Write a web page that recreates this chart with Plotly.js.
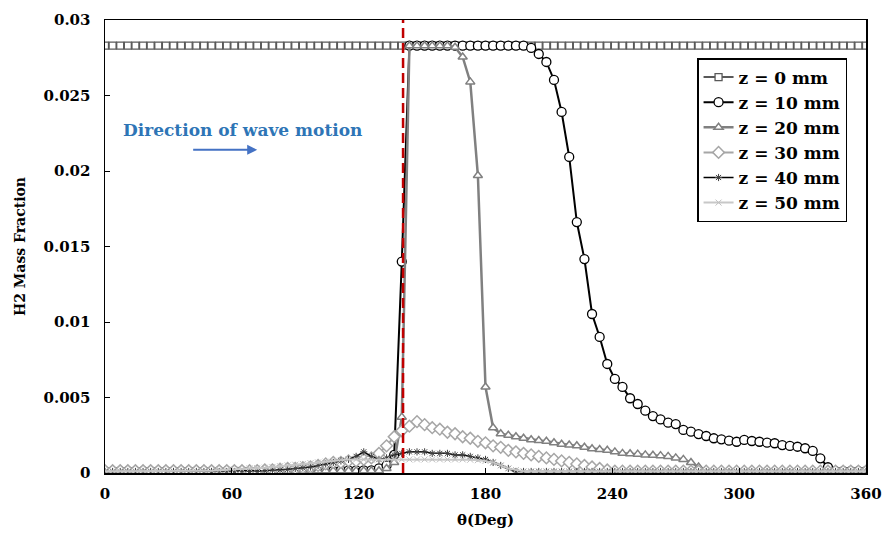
<!DOCTYPE html>
<html>
<head>
<meta charset="utf-8">
<script src="https://cdn.plot.ly/plotly-3.0.1.min.js"></script>
<style>html,body{margin:0;padding:0;background:#fff;}#chart{width:882px;height:533px;}</style>
</head>
<body>
<div id="chart"></div>
<script>
// Angle grid (deg)
const theta = [0,3.6,7.2,10.8,14.4,18,21.6,25.2,28.8,32.4,36,39.6,43.2,46.8,50.4,54,57.6,61.2,64.8,68.4,
72,75.6,79.2,82.8,86.4,90,93.6,97.2,100.8,104.4,108,111.6,115.2,118.8,122.4,126,129.6,133.2,136.8,140.4,
144,147.6,151.2,154.8,158.4,162,165.6,169.2,172.8,176.4,180,183.6,187.2,190.8,194.4,198,201.6,205.2,208.8,212.4,
216,219.6,223.2,226.8,230.4,234,237.6,241.2,244.8,248.4,252,255.6,259.2,262.8,266.4,270,273.6,277.2,280.8,284.4,
288,291.6,295.2,298.8,302.4,306,309.6,313.2,316.8,320.4,324,327.6,331.2,334.8,338.4,342,345.6,349.2,352.8,356.4,360];

const z0 = [0.0283,0.0283,0.0283,0.0283,0.0283,0.0283,0.0283,0.0283,0.0283,0.0283,
0.0283,0.0283,0.0283,0.0283,0.0283,0.0283,0.0283,0.0283,0.0283,0.0283,
0.0283,0.0283,0.0283,0.0283,0.0283,0.0283,0.0283,0.0283,0.0283,0.0283,
0.0283,0.0283,0.0283,0.0283,0.0283,0.0283,0.0283,0.0283,0.0283,0.0283,
0.0283,0.0283,0.0283,0.0283,0.0283,0.0283,0.0283,0.0283,0.0283,0.0283,
0.0283,0.0283,0.0283,0.0283,0.0283,0.0283,0.0283,0.0283,0.0283,0.0283,
0.0283,0.0283,0.0283,0.0283,0.0283,0.0283,0.0283,0.0283,0.0283,0.0283,
0.0283,0.0283,0.0283,0.0283,0.0283,0.0283,0.0283,0.0283,0.0283,0.0283,
0.0283,0.0283,0.0283,0.0283,0.0283,0.0283,0.0283,0.0283,0.0283,0.0283,
0.0283,0.0283,0.0283,0.0283,0.0283,0.0283,0.0283,0.0283,0.0283,0.0283,0.0283];

const z10 = [0.00012,0.00012,0.00012,0.00012,0.00012,0.00012,0.00012,0.00012,0.00012,0.00012,
0.00012,0.00012,0.00012,0.00012,0.00012,0.00012,0.00012,0.00012,0.00012,0.00012,
0.00012,0.00014,0.00014,0.00014,0.00014,0.00014,0.00014,0.00014,0.00014,0.00014,
0.00014,0.00018,0.00018,0.00018,0.00018,0.00018,0.0003,0.0005,0.0012,0.014,
0.0283,0.0283,0.0283,0.0283,0.0283,0.0283,0.0283,0.0283,0.0283,0.0283,
0.0283,0.0283,0.0283,0.0283,0.0283,0.0283,0.02815,0.02775,0.02722,0.02603,
0.02391,0.02093,0.01662,0.01417,0.01053,0.00901,0.00722,0.00623,0.0057,0.00495,
0.00457,0.00413,0.00377,0.00355,0.00333,0.00324,0.00285,0.00274,0.00258,0.00245,
0.0023,0.00223,0.00214,0.00207,0.00219,0.00212,0.00207,0.00201,0.00197,0.00185,
0.00179,0.00174,0.00164,0.00146,0.00097,0.00038,0.00012,0.00012,0.00012,0.00012,0.00012];

const z20 = [0.00015,0.00015,0.00015,0.00015,0.00015,0.00015,0.00015,0.00015,0.00015,0.00015,
0.00015,0.00015,0.00015,0.00015,0.00015,0.00015,0.00015,0.00015,0.00015,0.00015,
0.00015,0.00015,0.00015,0.00015,0.00015,0.00015,0.00015,0.00015,0.00015,0.00015,
0.00015,0.00015,0.00015,0.00015,0.00015,0.00015,0.00015,0.0003,0.0007,0.0037,
0.0283,0.0283,0.0283,0.0283,0.0283,0.0283,0.0282,0.02755,0.0259,0.0197,
0.0057,0.0030,0.0026,0.0025,0.0024,0.0023,0.0022,0.00215,0.0021,0.0020,
0.0019,0.00185,0.0018,0.0017,0.0016,0.00155,0.0015,0.0014,0.0013,0.00128,
0.00125,0.0012,0.00118,0.00115,0.0011,0.0010,0.0009,0.0007,0.0004,0.0002,
0.00012,0.00012,0.00012,0.00012,0.00012,0.00012,0.00012,0.00012,0.00012,0.00012,
0.00012,0.00012,0.00012,0.00012,0.00012,0.00012,0.00012,0.00012,0.00012,0.00012,0.00012];

const z30 = [0.00015,0.00015,0.00015,0.00015,0.00015,0.00015,0.00015,0.00015,0.00015,0.00015,
0.00015,0.00015,0.00015,0.00015,0.00015,0.00015,0.00015,0.00015,0.00015,0.00015,
0.00015,0.0002,0.0002,0.00025,0.0003,0.0003,0.00035,0.0004,0.0005,0.0006,
0.0007,0.0007,0.0008,0.0008,0.0009,0.0010,0.0013,0.0018,0.0024,0.0028,
0.0031,0.0034,0.0032,0.0030,0.0029,0.0027,0.0026,0.0024,0.0023,0.0021,
0.0020,0.0018,0.0017,0.0015,0.0014,0.0013,0.0012,0.0011,0.0010,0.0009,
0.0008,0.0007,0.0006,0.0005,0.0004,0.0003,0.0002,0.00012,0.00012,0.00012,
0.00012,0.00012,0.00012,0.00012,0.00012,0.00012,0.00012,0.00012,0.00012,0.00012,
0.00012,0.00012,0.00012,0.00012,0.00012,0.00012,0.00012,0.00012,0.00012,0.00012,
0.00012,0.00012,0.00012,0.00012,0.00012,0.00012,0.00012,0.00012,0.00012,0.00012,0.00012];

const z40 = [0.0001,0.0001,0.0001,0.0001,0.0001,0.0001,0.0001,0.0001,0.0001,0.0001,
0.0001,0.0001,0.0001,0.0001,0.0001,0.0001,0.0001,0.0001,0.0001,0.0001,
0.0001,0.00015,0.0002,0.0002,0.00025,0.0003,0.00035,0.0004,0.0005,0.0006,
0.0007,0.0008,0.0009,0.0011,0.0014,0.0011,0.0009,0.0010,0.0012,0.0013,
0.0014,0.0014,0.0014,0.0013,0.0013,0.0013,0.0012,0.0012,0.0011,0.0010,
0.0009,0.0007,0.0005,0.0003,0.0001,0.0001,0.0001,0.0001,0.0001,0.0001,
0.0001,0.0001,0.0001,0.0001,0.0001,0.0001,0.0001,0.0001,0.0001,0.0001,
0.0001,0.0001,0.0001,0.0001,0.0001,0.0001,0.0001,0.0001,0.0001,0.0001,
0.0001,0.0001,0.0001,0.0001,0.0001,0.0001,0.0001,0.0001,0.0001,0.0001,
0.0001,0.0001,0.0001,0.0001,0.0001,0.0001,0.0001,0.0001,0.0001,0.0001,0.0001];

const z50 = [0.00012,0.00012,0.00012,0.00012,0.00012,0.00012,0.00012,0.00012,0.00012,0.00012,
0.00012,0.00012,0.00012,0.00012,0.00015,0.00018,0.0002,0.00022,0.00025,0.0003,
0.00032,0.00035,0.0004,0.00045,0.0005,0.00055,0.0006,0.00065,0.0007,0.00075,
0.0008,0.00085,0.0009,0.0009,0.0009,0.0009,0.0009,0.0009,0.0009,0.0009,
0.0009,0.0009,0.0009,0.0009,0.0009,0.0009,0.0009,0.0009,0.00088,0.00085,
0.0008,0.0007,0.0005,0.0003,0.0002,0.00012,0.00012,0.00012,0.00012,0.00012,
0.00012,0.00012,0.00012,0.00012,0.00012,0.00012,0.00012,0.00012,0.00012,0.00012,
0.00012,0.00012,0.00012,0.00012,0.00012,0.00012,0.00012,0.00012,0.00012,0.00012,
0.00012,0.00012,0.00012,0.00012,0.00012,0.00012,0.00012,0.00012,0.00012,0.00012,
0.00012,0.00012,0.00012,0.00012,0.00012,0.00012,0.00012,0.00012,0.00012,0.00012,0.00012];

const seriesNames = ['z = 0 mm','z = 10 mm','z = 20 mm','z = 30 mm','z = 40 mm','z = 50 mm'];
const shockAngle = 141;
const arrowFrom = 41, arrowTo = 72, arrowY = 0.0214;
const noteText = 'Direction of wave motion';
const noteX = 65, noteY = 0.0227;

const serif = 'DejaVu Serif, serif';

const traces = [
  {x: theta, y: z0, name: seriesNames[0], mode: 'lines+markers',
   line: {color: '#595959', width: 2},
   marker: {symbol: 'square', size: 7, color: '#ffffff', line: {color: '#595959', width: 1.3}}},
  {x: theta, y: z10, name: seriesNames[1], mode: 'lines+markers',
   line: {color: '#000000', width: 2},
   marker: {symbol: 'circle', size: 9, color: '#ffffff', line: {color: '#000000', width: 1.3}}},
  {x: theta, y: z20, name: seriesNames[2], mode: 'lines+markers',
   line: {color: '#808080', width: 2.5},
   marker: {symbol: 'triangle-up', size: 8, color: '#ffffff', line: {color: '#808080', width: 1.5}}},
  {x: theta, y: z30, name: seriesNames[3], mode: 'lines+markers',
   line: {color: '#a6a6a6', width: 2},
   marker: {symbol: 'diamond', size: 9, color: '#ffffff', line: {color: '#a6a6a6', width: 1.5}}},
  {x: theta, y: z40, name: seriesNames[4], mode: 'lines+markers',
   line: {color: '#000000', width: 1.5},
   marker: {symbol: 'asterisk-open', size: 6, color: '#404040', line: {color: '#404040', width: 1}}},
  {x: theta, y: z50, name: seriesNames[5], mode: 'lines+markers',
   line: {color: '#c8c8c8', width: 2},
   marker: {symbol: 'x-thin-open', size: 6, color: '#c0c0c0', line: {color: '#c0c0c0', width: 1}}}
];

const layout = {
  width: 882, height: 533,
  margin: {l: 105, r: 16, t: 20, b: 60},
  paper_bgcolor: '#ffffff', plot_bgcolor: '#ffffff',
  showlegend: true,
  font: {family: serif, color: '#000000'},
  xaxis: {
    range: [0, 360], dtick: 60, tick0: 0,
    showgrid: false, zeroline: false,
    showline: true, linecolor: '#000000', linewidth: 1.5, mirror: true,
    ticks: 'inside', ticklen: 5, tickcolor: '#000000', ticklabelstandoff: 6,
    tickfont: {family: serif, size: 15, weight: 'bold', color: '#000000'},
    title: {text: 'θ(Deg)', font: {family: serif, size: 15, weight: 'bold', color: '#000000'}, standoff: 13}
  },
  yaxis: {
    range: [0, 0.03], dtick: 0.005, tick0: 0,
    showgrid: false, zeroline: false,
    showline: true, linecolor: '#000000', linewidth: 1.5, mirror: true,
    ticks: 'inside', ticklen: 5, tickcolor: '#000000', ticklabelstandoff: 10,
    tickfont: {family: serif, size: 15, weight: 'bold', color: '#000000'},
    title: {text: 'H2 Mass Fraction', font: {family: serif, size: 14, weight: 'bold', color: '#000000'}, standoff: 14}
  },
  legend: {
    x: 0.778, y: 0.916, xanchor: 'left', yanchor: 'top',
    bgcolor: '#ffffff', bordercolor: '#000000', borderwidth: 1.5,
    font: {family: serif, size: 17, weight: 'bold', color: '#000000'},
    tracegroupgap: 0, itemwidth: 30
  },
  shapes: [
    {type: 'line', xref: 'x', yref: 'y', x0: shockAngle, x1: shockAngle, y0: 0, y1: 0.03,
     line: {color: '#c00000', width: 2.5, dash: '10px,5px'}, layer: 'above'}
  ],
  annotations: [
    {xref: 'x', yref: 'y', x: noteX, y: noteY, text: noteText, showarrow: false,
     font: {family: serif, size: 17, weight: 'bold', color: '#2e75b6'}},
    {xref: 'x', yref: 'y', axref: 'x', ayref: 'y', x: arrowTo, y: arrowY, ax: arrowFrom, ay: arrowY,
     text: '', showarrow: true, arrowhead: 2, arrowsize: 1, arrowwidth: 2, arrowcolor: '#4472c4'}
  ]
};

Plotly.newPlot('chart', traces, layout, {displayModeBar: false, staticPlot: true});
</script>
</body>
</html>
